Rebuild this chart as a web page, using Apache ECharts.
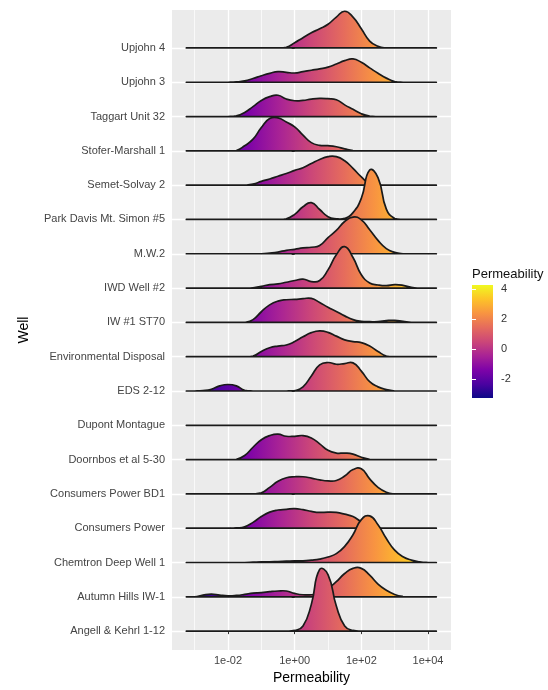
<!DOCTYPE html>
<html>
<head>
<meta charset="utf-8">
<script src="https://cdn.jsdelivr.net/npm/echarts@6/dist/echarts.min.js"></script>
<style>
  html, body { margin: 0; padding: 0; background: #fff; }
  #chart { width: 548px; height: 690px; }
</style>
</head>
<body>
<div id="chart"></div>
<script>
// ridgeline of log10 permeability per well, fill coloured by x (plasma)
// wells listed top to bottom as in the picture
const wells = [
  "Upjohn 4", "Upjohn 3", "Taggart Unit 32", "Stofer-Marshall 1", "Semet-Solvay 2",
  "Park Davis Mt. Simon #5", "M.W.2", "IWD Well #2", "IW #1 ST70", "Environmental Disposal",
  "EDS 2-12", "Dupont Montague", "Doornbos et al 5-30", "Consumers Power BD1",
  "Consumers Power", "Chemtron Deep Well 1", "Autumn Hills IW-1", "Angell & Kehrl 1-12"
];

// x positions (log10 permeability) where the density heights were read
const logGrid = [
  -3.25, -3.0, -2.75, -2.5, -2.25, -2.0, -1.75, -1.5, -1.25, -1.0,
  -0.75, -0.5, -0.25, 0, 0.25, 0.5, 0.75, 1.0, 1.25, 1.5,
  1.75, 2.0, 2.25, 2.5, 2.75, 3.0, 3.25, 3.5, 3.75, 4.0, 4.25
];

// density heights, in units of row spacing
const densUpjohn4 = [0,0,0,0,0, 0,0,0,0,0, 0,0,0.02,0.15,0.30, 0.44,0.56,0.69,0.90,1.07, 0.90,0.56,0.20,0.05,0, 0,0,0,0,0,0];
const densUpjohn3 = [0,0,0,0,0, 0,0.01,0.04,0.11,0.19, 0.26,0.31,0.29,0.27,0.31, 0.35,0.39,0.44,0.53,0.63, 0.68,0.58,0.42,0.26,0.12, 0.02,0,0,0,0,0];
const densTaggart = [0,0,0,0,0, 0,0.02,0.12,0.29,0.47, 0.58,0.62,0.51,0.46,0.47, 0.51,0.53,0.52,0.49,0.34, 0.21,0.08,0.01,0,0, 0,0,0,0,0,0];
const densStofer = [0,0,0,0,0, 0,0.01,0.15,0.34,0.68, 0.94,0.96,0.84,0.70,0.46, 0.24,0.16,0.15,0.12,0.06, 0.01,0,0,0,0, 0,0,0,0,0,0];
const densSemet = [0,0,0,0,0, 0,0,0,0.03,0.11, 0.18,0.26,0.34,0.43,0.51, 0.63,0.75,0.83,0.83,0.71, 0.49,0.24,0.04,0,0, 0,0,0,0,0,0];
const densParkDavis = [0,0,0,0,0, 0,0,0,0,0, 0,0,0.02,0.15,0.37, 0.49,0.29,0.08,0.02,0.03, 0.20,0.62,1.44,1.22,0.30, 0.03,0,0,0,0,0];
const densMW2 = [0,0,0,0,0, 0,0,0,0,0, 0.02,0.05,0.10,0.13,0.17, 0.19,0.24,0.47,0.68,0.94, 1.07,0.99,0.70,0.39,0.15, 0.04,0,0,0,0,0];
const densIWD2 = [0,0,0,0,0, 0,0,0,0.01,0.05, 0.10,0.12,0.17,0.22,0.26, 0.19,0.22,0.53,0.97,1.21, 0.89,0.39,0.15,0.09,0.07, 0.10,0.08,0.02,0,0,0];
const densIW1 = [0,0,0,0,0, 0,0,0,0.08,0.31, 0.51,0.62,0.66,0.67,0.69, 0.70,0.58,0.44,0.32,0.19, 0.08,0.03,0.02,0.02,0.05, 0.06,0.03,0,0,0,0];
const densEnvDisposal = [0,0,0,0,0, 0,0,0,0.02,0.15, 0.26,0.31,0.34,0.44,0.58, 0.70,0.75,0.71,0.60,0.49, 0.44,0.41,0.31,0.15,0.02, 0,0,0,0,0,0];
const densEDS = [0,0,0.01,0.05,0.15, 0.19,0.15,0.02,0,0, 0,0,0,0.01,0.12, 0.44,0.76,0.83,0.78,0.80, 0.82,0.58,0.27,0.12,0.04, 0,0,0,0,0,0];
const densDupont = [0,0,0,0,0, 0,0,0,0,0, 0,0,0,0,0, 0,0,0,0,0, 0,0,0,0,0, 0,0,0,0,0,0];
const densDoornbos = [0,0,0,0,0, 0,0.01,0.12,0.36,0.58, 0.70,0.74,0.68,0.68,0.70, 0.63,0.46,0.27,0.19,0.19, 0.16,0.07,0.01,0,0, 0,0,0,0,0,0];
const densCPBD1 = [0,0,0,0,0, 0,0,0,0,0.03, 0.19,0.37,0.47,0.50,0.50, 0.46,0.41,0.38,0.39,0.52, 0.71,0.73,0.44,0.19,0.05, 0,0,0,0,0,0];
const densCP = [0,0,0,0,0, 0,0.01,0.04,0.17,0.34, 0.47,0.53,0.55,0.57,0.54, 0.49,0.46,0.47,0.46,0.41, 0.34,0.19,0.08,0.02,0, 0,0,0,0,0,0];
const densChemtron = [0,0,0,0,0, 0,0,0,0.01,0.02, 0.02,0.03,0.04,0.05,0.05, 0.07,0.10,0.16,0.26,0.47, 0.81,1.25,1.36,1.10,0.70, 0.36,0.17,0.07,0.02,0,0];
const densAutumn = [0,0,0.05,0.08,0.05, 0.03,0.04,0.07,0.11,0.12, 0.15,0.17,0.17,0.10,0.06, 0.06,0.10,0.24,0.44,0.68, 0.83,0.83,0.63,0.37,0.19, 0.07,0.01,0,0,0,0];
const densAngell = [0,0,0,0,0, 0,0,0,0,0, 0,0,0,0.02,0.15, 0.78,1.80,1.65,0.73,0.15, 0.02,0,0,0,0, 0,0,0,0,0,0];

const densities = [
  densUpjohn4, densUpjohn3, densTaggart, densStofer, densSemet, densParkDavis, densMW2,
  densIWD2, densIW1, densEnvDisposal, densEDS, densDupont, densDoornbos, densCPBD1,
  densCP, densChemtron, densAutumn, densAngell
];

// axis ticks
const xMajor = [-2, 0, 2, 4];
const xMinor = [-3, -1, 1, 3];
const xTickLabels = ["1e-02", "1e+00", "1e+02", "1e+04"];
const legendTicks = [-2, 0, 2, 4];
const fillRange = [-3.29, 4.3];

const plasma = ["#0D0887", "#4C02A1", "#7E03A8", "#A92395", "#CC4778", "#E56B5D", "#F89441", "#FDC328", "#F0F921"];
const plasmaStops = plasma.map((c, k) => ({ offset: k / (plasma.length - 1), color: c }));

// row index: bottom well = 0
const rows = wells.map((w, i) => wells.length - 1 - i);

const chart = echarts.init(document.getElementById("chart"), null, { renderer: "canvas" });

function renderRidge(params, api) {
  const i = params.dataIndex;
  const base = rows[i];
  const dens = densities[i];
  const pts = logGrid.map((x, j) => api.coord([x, base + dens[j]]));
  const basePx = pts[0][1];
  const x0 = api.coord([fillRange[0], base])[0];
  const x1 = api.coord([fillRange[1], base])[0];
  return {
    type: "polygon",
    // keep curve control points from dipping under the baseline
    shape: { points: pts, smooth: 0.5, smoothConstraint: [[pts[0][0], basePx - 2000], [pts[pts.length - 1][0], basePx]] },
    style: {
      fill: new echarts.graphic.LinearGradient(x0, 0, x1, 0, plasmaStops, true),
      stroke: "#1a1a1a",
      lineWidth: 1.7,
      lineJoin: "round"
    }
  };
}

function renderColorbar(params, api) {
  const a = api.coord([0, fillRange[1]]);
  const b = api.coord([1, fillRange[0]]);
  return {
    type: "rect",
    shape: { x: a[0], y: a[1], width: b[0] - a[0], height: b[1] - a[1] },
    style: { fill: new echarts.graphic.LinearGradient(0, 1, 0, 0, plasmaStops) }
  };
}

const axisGrey = "#444";

const option = {
  animation: false,
  textStyle: { fontFamily: "Liberation Sans, Arial, sans-serif" },
  title: {
    text: "Permeability",
    left: 467,
    top: 263,
    textStyle: { fontSize: 13, fontWeight: "normal", color: "#111" }
  },
  grid: [
    { left: 172, top: 10, width: 279, height: 641, show: true, backgroundColor: "#EBEBEB", borderWidth: 0 },
    { left: 472, top: 285, width: 21, height: 113 }
  ],
  xAxis: [
    {
      gridIndex: 0, type: "value", min: -3.68, max: 4.69,
      axisLine: { show: false },
      axisTick: { show: true, length: 3, lineStyle: { color: "#333" }, customValues: xMajor },
      axisLabel: {
        customValues: xMajor, fontSize: 11, color: axisGrey, margin: 5,
        formatter: (v) => xTickLabels[xMajor.indexOf(v)]
      },
      splitLine: { show: true, lineStyle: { color: "#fff", width: 1.3 } },
      name: "Permeability", nameLocation: "middle", nameGap: 18,
      nameTextStyle: { fontSize: 14, color: "#000" }
    },
    {
      gridIndex: 0, type: "value", min: -3.68, max: 4.69, position: "bottom",
      axisLine: { show: false },
      axisTick: { show: false, customValues: xMinor },
      axisLabel: { show: false, customValues: xMinor },
      splitLine: { show: true, lineStyle: { color: "#fff", width: 0.7 } }
    },
    { gridIndex: 1, type: "value", min: 0, max: 1, show: false }
  ],
  yAxis: [
    {
      gridIndex: 0, type: "value", min: -0.553, max: 18.106,
      axisLine: { show: false },
      axisTick: { show: true, length: 3, lineStyle: { color: "#333" }, customValues: rows },
      axisLabel: {
        customValues: rows, fontSize: 11, color: axisGrey, margin: 7,
        formatter: (v) => wells[wells.length - 1 - v]
      },
      splitLine: { show: true, lineStyle: { color: "#fff", width: 1.3 } },
      name: "Well", nameLocation: "middle", nameGap: 141, nameRotate: 90,
      nameTextStyle: { fontSize: 14, color: "#000" }
    },
    {
      gridIndex: 1, type: "value", min: fillRange[0], max: fillRange[1], position: "right", z: 5,
      axisLine: { show: false },
      axisTick: { show: true, inside: true, length: 4, lineStyle: { color: "#fff", width: 1 }, customValues: legendTicks },
      axisLabel: { customValues: legendTicks, fontSize: 11, color: "#333", margin: 8 },
      splitLine: { show: false }
    },
    {
      gridIndex: 1, type: "value", min: fillRange[0], max: fillRange[1], position: "left", z: 5,
      axisLine: { show: false },
      axisTick: { show: true, inside: true, length: 4, lineStyle: { color: "#fff", width: 1 }, customValues: legendTicks },
      axisLabel: { show: false, customValues: legendTicks },
      splitLine: { show: false }
    }
  ],
  series: [
    {
      type: "custom",
      xAxisIndex: 0,
      yAxisIndex: 0,
      renderItem: renderRidge,
      encode: { x: 0, y: 1 },
      data: wells.map((w, i) => [0, rows[i]]),
      z: 2
    },
    {
      type: "custom",
      xAxisIndex: 2,
      yAxisIndex: 1,
      renderItem: renderColorbar,
      data: [[0, 0]],
      z: 2
    }
  ]
};

chart.setOption(option);
</script>
</body>
</html>
